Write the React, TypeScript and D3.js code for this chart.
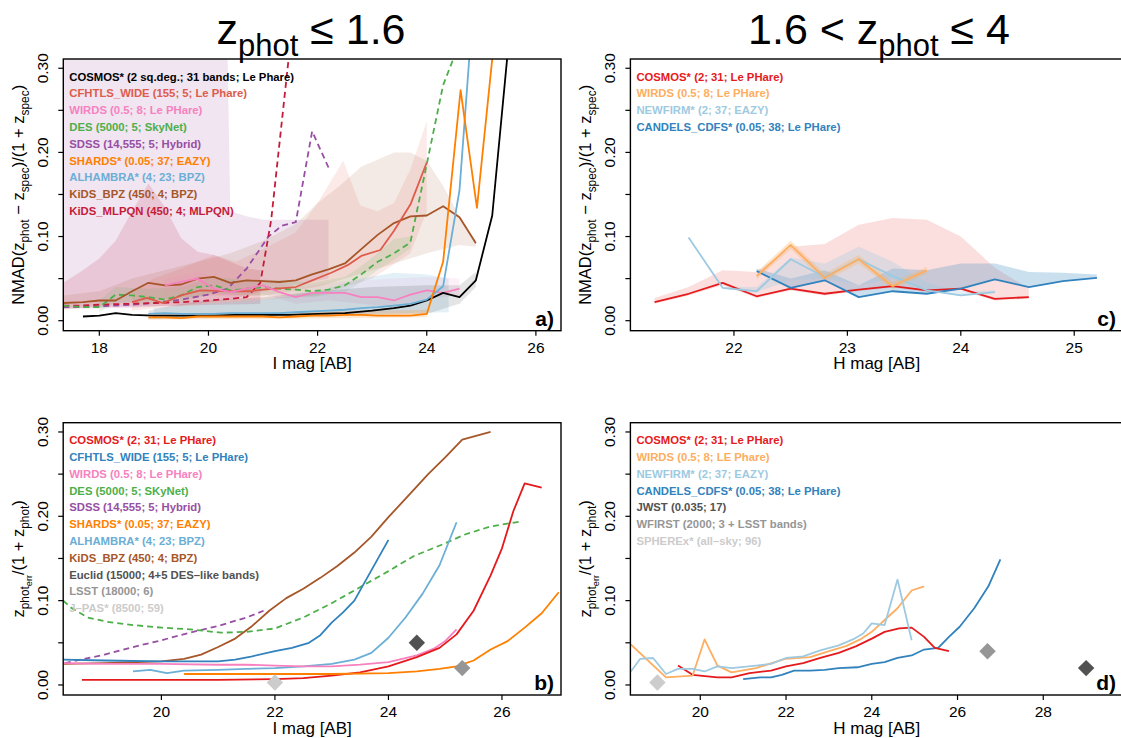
import React from 'react';
import * as d3 from 'd3';

type Pt = [number, number];

const FONT = '"Liberation Sans", Arial, Helvetica, sans-serif';

// ---------------- Panel a : NMAD vs I mag (z <= 1.6) ----------------
const aCOSMOS: Pt[] = [[17.7,.005],[18.0,.006],[18.3,.009],[18.6,.007],[19.0,.006],[19.5,.006],[20.0,.006],[20.5,.007],[21.0,.007],[21.5,.007],[22.0,.008],[22.5,.009],[23.0,.012],[23.4,.015],[23.7,.018],[24.0,.024],[24.3,.033],[24.6,.028],[24.9,.048],[25.2,.125],[25.5,.33]];
const aCFHTLS: Pt[] = [[18.6,.022],[18.87,.027],[19.17,.021],[19.5,.03],[19.85,.036],[20.4,.035],[20.75,.035],[21.0,.037],[21.6,.04],[21.9,.048],[22.25,.057],[22.55,.066],[22.8,.077],[23.15,.084],[23.4,.107],[23.7,.138],[24.0,.188]];
const aWIRDS: Pt[] = [[19.2,.042],[19.5,.046],[19.8,.050],[20.1,.038],[20.4,.034],[20.7,.038],[21.0,.042],[21.3,.034],[21.6,.028],[21.9,.033],[22.2,.033],[22.5,.033],[22.8,.028],[23.1,.028],[23.4,.024],[23.7,.031],[24.0,.036],[24.3,.033],[24.6,.038]];
const aDES: Pt[] = [[17.34,.018],[17.7,.016],[18.0,.016],[18.3,.031],[18.6,.030],[18.9,.028],[19.2,.025],[19.5,.030],[19.8,.040],[20.1,.042],[20.4,.036],[20.7,.038],[21.0,.040],[21.3,.038],[21.6,.037],[21.9,.035],[22.2,.037],[22.5,.042],[22.8,.055],[23.1,.070],[23.4,.080],[23.7,.093],[24.0,.186],[24.3,.28],[24.6,.33]];
const aSDSS: Pt[] = [[17.34,.016],[17.7,.016],[18.0,.017],[18.3,.018],[18.6,.019],[19.0,.021],[19.5,.025],[20.0,.031],[20.35,.038],[20.7,.062],[21.1,.1],[21.35,.113],[21.6,.117],[21.9,.225],[22.2,.182]];
const aSHARDS: Pt[] = [[18.9,.004],[19.2,.004],[19.5,.003],[19.8,.005],[20.1,.005],[20.4,.005],[20.7,.005],[21.0,.005],[21.3,.004],[21.6,.005],[21.9,.006],[22.2,.006],[22.5,.007],[22.8,.007],[23.1,.006],[23.4,.006],[23.7,.006],[24.0,.008],[24.3,.07],[24.62,.274],[24.92,.134],[25.23,.33]];
const aALHAMBRA: Pt[] = [[18.9,.008],[19.2,.009],[19.5,.008],[19.8,.008],[20.1,.008],[20.4,.009],[20.7,.009],[21.0,.009],[21.3,.009],[21.6,.010],[21.9,.011],[22.2,.012],[22.5,.013],[22.8,.015],[23.1,.016],[23.4,.018],[23.7,.020],[24.0,.025],[24.3,.041],[24.6,.155],[24.8,.33]];
const aKIDSBPZ: Pt[] = [[17.34,.021],[17.7,.022],[18.0,.024],[18.3,.024],[18.6,.035],[18.9,.045],[19.2,.042],[19.5,.043],[19.8,.050],[20.1,.052],[20.4,.045],[20.7,.048],[21.0,.047],[21.3,.046],[21.6,.048],[21.9,.055],[22.2,.061],[22.5,.068],[22.8,.085],[23.1,.102],[23.4,.116],[23.7,.124],[24.0,.125],[24.3,.136],[24.6,.123],[24.9,.092]];
const aKIDSMLPQN: Pt[] = [[17.34,.018],[17.7,.018],[18.0,.019],[18.5,.020],[19.0,.021],[19.5,.022],[20.0,.024],[20.4,.026],[20.7,.028],[20.95,.045],[21.15,.12],[21.5,.33]];

// bands (upper / lower envelopes)
const aBandSDSSHi: Pt[] = [[17.34,.5],[20.3,.5],[20.4,.13],[20.7,.124],[21.0,.12],[21.6,.12],[22.2,.12]];
const aBandSDSSLo: Pt[] = [[17.34,.014],[18.5,.015],[19.5,.018],[20.4,.025],[21.0,.035],[22.2,.05]];
const aBandMLPQNHi: Pt[] = [[17.34,.045],[17.7,.06],[18.0,.074],[18.3,.095],[18.6,.13],[18.9,.163],[19.2,.135],[19.5,.098],[19.8,.082],[20.1,.078],[20.4,.07],[20.7,.062],[20.95,.06]];
const aBandMLPQNLo: Pt[] = [[17.34,.015],[20.95,.02]];
const aBandCFHTLSHi: Pt[] = [[18.6,.035],[19.0,.05],[19.5,.062],[20.1,.078],[20.5,.07],[21.0,.085],[21.6,.105],[22.0,.14],[22.47,.19],[22.78,.137],[23.1,.13],[23.4,.14],[23.7,.18],[24.0,.237]];
const aBandCFHTLSLo: Pt[] = [[18.6,.012],[20.0,.02],[21.0,.025],[22.0,.03],[23.0,.05],[23.7,.08],[24.0,.13]];
const aBandBPZHi: Pt[] = [[17.34,.03],[18.0,.035],[18.6,.05],[19.2,.06],[19.8,.07],[20.4,.08],[21.0,.095],[21.6,.115],[22.0,.14],[22.4,.16],[22.8,.183],[23.4,.2],[23.7,.2],[24.0,.19],[24.3,.16],[24.6,.124],[24.9,.095]];
const aBandBPZLo: Pt[] = [[17.34,.013],[19.0,.025],[20.0,.03],[21.0,.03],[22.0,.04],[23.0,.06],[24.0,.08],[24.6,.09],[24.9,.088]];
const aBandDESHi: Pt[] = [[18.0,.024],[18.3,.04],[18.9,.038],[19.5,.04],[20.1,.052],[20.7,.048],[21.3,.048],[21.9,.045],[22.5,.052],[22.8,.065],[23.1,.08],[23.4,.097],[23.7,.1]];
const aBandDESLo: Pt[] = [[18.0,.01],[18.3,.022],[18.9,.02],[19.5,.022],[20.1,.033],[20.7,.03],[21.3,.03],[21.9,.028],[22.5,.034],[22.8,.046],[23.1,.06],[23.4,.072],[23.7,.086]];
const aBandCOSMOSHi: Pt[] = [[18.9,.012],[19.5,.02],[20.0,.024],[21.0,.028],[22.0,.035],[23.0,.04],[24.0,.042],[24.6,.042],[24.9,.058]];
const aBandCOSMOSLo: Pt[] = [[18.9,.002],[24.0,.008],[24.6,.02],[24.9,.04]];
const aBandALHAMBRAHi: Pt[] = [[19.0,.015],[20.0,.02],[21.0,.025],[22.0,.035],[22.8,.05],[23.4,.057],[24.0,.055],[24.4,.05]];
const aBandALHAMBRALo: Pt[] = [[19.0,.003],[24.4,.01]];
const aBandWIRDSHi: Pt[] = [[19.2,.05],[19.8,.058],[20.4,.045],[21.0,.05],[21.6,.04],[22.2,.045],[22.8,.048],[23.4,.05],[24.0,.052],[24.6,.05]];
const aBandWIRDSLo: Pt[] = [[19.2,.034],[19.8,.04],[20.4,.026],[21.0,.032],[21.6,.02],[22.2,.024],[22.8,.02],[23.4,.016],[24.0,.026],[24.6,.03]];
const aBandSHARDSHi: Pt[] = [[18.9,.008],[21.0,.009],[22.5,.011],[24.0,.013]];
const aBandSHARDSLo: Pt[] = [[18.9,.001],[24.0,.004]];

const aLegend: [string, string][] = [
  ['COSMOS* (2 sq.deg.; 31 bands; Le Phare)', '#000000'],
  ['CFHTLS_WIDE (155; 5; Le Phare)', '#dd5c4c'],
  ['WIRDS (0.5; 8; Le PHare)', '#f781bf'],
  ['DES (5000; 5; SkyNet)', '#4daf4a'],
  ['SDSS (14,555; 5; Hybrid)', '#984ea3'],
  ['SHARDS* (0.05; 37; EAZY)', '#ff7f00'],
  ['ALHAMBRA* (4; 23; BPZ)', '#6baed6'],
  ['KiDS_BPZ (450; 4; BPZ)', '#a65628'],
  ['KiDS_MLPQN (450; 4; MLPQN)', '#c51b3a'],
];

// ---------------- Panel b : zphot_err vs I mag ----------------
const bCOSMOS: Pt[] = [[18.6,.006],[19.0,.006],[20.0,.006],[21.0,.006],[22.0,.007],[22.5,.008],[23.0,.011],[23.5,.015],[24.0,.022],[24.5,.033],[24.9,.044],[25.2,.06],[25.5,.088],[25.8,.13],[26.0,.162],[26.2,.206],[26.4,.239],[26.7,.234]];
const bCFHTLS: Pt[] = [[18.27,.03],[19.0,.029],[20.0,.028],[21.0,.028],[21.3,.03],[21.6,.034],[22.0,.04],[22.3,.044],[22.6,.05],[22.8,.059],[23.0,.074],[23.2,.086],[23.4,.1],[23.6,.124],[23.8,.148],[24.0,.172]];
const bWIRDS: Pt[] = [[18.27,.026],[19.0,.025],[20.0,.025],[21.0,.024],[21.5,.024],[22.0,.023],[22.5,.022],[23.0,.022],[23.5,.024],[24.0,.027],[24.5,.035],[24.8,.043],[25.0,.052],[25.2,.066]];
const bDES: Pt[] = [[18.27,.1],[18.4,.092],[18.7,.08],[19.04,.075],[19.5,.071],[20.0,.068],[20.5,.066],[21.05,.062],[21.5,.063],[22.0,.067],[22.5,.08],[23.0,.097],[23.45,.114],[24.0,.135],[24.45,.153],[25.0,.168],[25.33,.178],[25.8,.188],[26.34,.194]];
const bSDSS: Pt[] = [[18.3,.026],[19.0,.036],[19.5,.045],[20.0,.053],[20.5,.062],[21.0,.07],[21.5,.08],[21.8,.088]];
const bSHARDS: Pt[] = [[20.4,.013],[21.0,.013],[22.0,.013],[23.0,.013],[24.0,.014],[24.5,.016],[24.9,.019],[25.2,.022],[25.5,.029],[25.8,.042],[26.1,.052],[26.4,.068],[26.7,.085],[27.0,.11]];
const bALHAMBRA: Pt[] = [[19.5,.016],[19.8,.018],[20.1,.014],[20.4,.017],[21.0,.018],[21.5,.019],[22.0,.02],[22.5,.022],[23.0,.025],[23.4,.03],[23.7,.038],[24.0,.056],[24.3,.08],[24.6,.108],[24.9,.142],[25.2,.193]];
const bKIDSBPZ: Pt[] = [[18.27,.025],[19.0,.026],[20.0,.028],[20.4,.031],[20.7,.036],[21.0,.045],[21.3,.055],[21.6,.07],[21.9,.088],[22.2,.103],[22.5,.114],[22.8,.127],[23.1,.141],[23.4,.157],[23.7,.176],[24.0,.199],[24.4,.228],[24.7,.25],[25.0,.27],[25.3,.291],[25.8,.3]];
const bForecast: [number, number, string][] = [[24.5,.05,'#525252'],[25.3,.02,'#969696'],[22.0,.003,'#cccccc']];

const bLegend: [string, string][] = [
  ['COSMOS* (2; 31; Le PHare)', '#e41a1c'],
  ['CFHTLS_WIDE (155; 5; Le PHare)', '#3182bd'],
  ['WIRDS (0.5; 8; Le PHare)', '#f781bf'],
  ['DES (5000; 5; SKyNet)', '#4daf4a'],
  ['SDSS (14,555; 5; Hybrid)', '#984ea3'],
  ['SHARDS* (0.05; 37; EAZY)', '#ff7f00'],
  ['ALHAMBRA* (4; 23; BPZ)', '#6baed6'],
  ['KiDS_BPZ (450; 4; BPZ)', '#a65628'],
  ['Euclid (15000; 4+5 DES\u2013like bands)', '#525252'],
  ['LSST (18000; 6)', '#969696'],
  ['J\u2013PAS* (8500; 59)', '#cccccc'],
];

// ---------------- Panel c : NMAD vs H mag (1.6 < z <= 4) ----------------
const cCOSMOS: Pt[] = [[21.3,.022],[21.6,.032],[21.9,.045],[22.2,.029],[22.5,.038],[22.8,.032],[23.1,.037],[23.4,.041],[23.7,.036],[24.0,.038],[24.3,.026],[24.6,.028]];
const cWIRDS: Pt[] = [[22.2,.053],[22.5,.09],[22.8,.051],[23.1,.073],[23.4,.041],[23.7,.06]];
const cNEWFIRM: Pt[] = [[21.6,.099],[21.9,.039],[22.2,.035],[22.5,.073],[22.8,.052],[23.1,.073],[23.4,.053],[23.7,.036],[24.0,.03],[24.3,.034]];
const cCANDELS: Pt[] = [[22.2,.059],[22.5,.039],[22.8,.048],[23.1,.028],[23.4,.035],[23.7,.032],[24.0,.038],[24.3,.049],[24.6,.04],[24.9,.047],[25.2,.051]];
const cBandCOSMOSHi: Pt[] = [[21.3,.027],[21.6,.04],[21.9,.06],[22.2,.058],[22.5,.088],[22.8,.091],[23.1,.114],[23.4,.122],[23.7,.12],[24.0,.1],[24.3,.063],[24.6,.038]];
const cBandCOSMOSLo: Pt[] = [[21.3,.02],[21.6,.03],[21.9,.042],[22.2,.027],[22.5,.036],[22.8,.03],[23.1,.035],[23.4,.039],[23.7,.034],[24.0,.036],[24.3,.024],[24.6,.026]];
const cBandWIRDSHi: Pt[] = [[22.2,.058],[22.5,.095],[22.8,.056],[23.1,.078],[23.4,.046],[23.7,.064]];
const cBandWIRDSLo: Pt[] = [[22.2,.049],[22.5,.085],[22.8,.047],[23.1,.068],[23.4,.037],[23.7,.056]];
const cBandNEWFIRMHi: Pt[] = [[21.6,.1],[21.9,.04],[22.2,.04],[22.5,.075],[22.8,.068],[23.1,.088],[23.4,.07],[23.7,.045],[24.0,.035],[24.3,.036]];
const cBandNEWFIRMLo: Pt[] = [[21.6,.098],[21.9,.038],[22.2,.034],[22.5,.048],[22.8,.05],[23.1,.042],[23.4,.05],[23.7,.035],[24.0,.03],[24.3,.033]];
const cBandCANDELSHi: Pt[] = [[22.2,.062],[22.5,.05],[22.8,.06],[23.1,.042],[23.4,.062],[23.7,.06],[24.0,.068],[24.3,.068],[24.6,.058],[24.9,.057],[25.2,.055]];
const cBandCANDELSLo: Pt[] = cCANDELS;

const cLegend: [string, string][] = [
  ['COSMOS* (2; 31; Le PHare)', '#e41a1c'],
  ['WIRDS (0.5; 8; Le PHare)', '#fdae61'],
  ['NEWFIRM* (2; 37; EAZY)', '#9ecae1'],
  ['CANDELS_CDFS* (0.05; 38; Le PHare)', '#3182bd'],
];

// ---------------- Panel d : zphot_err vs H mag ----------------
const dCOSMOS: Pt[] = [[19.48,.023],[19.82,.012],[20.4,.009],[20.73,.009],[21.15,.014],[21.65,.017],[22.0,.022],[22.4,.026],[22.8,.032],[23.23,.038],[23.64,.046],[24.0,.055],[24.3,.063],[24.64,.067],[24.93,.068],[25.22,.057],[25.47,.044],[25.8,.04]];
const dWIRDS: Pt[] = [[18.38,.048],[19.2,.009],[19.82,.011],[20.1,.054],[20.4,.023],[20.73,.015],[21.3,.02],[21.98,.031],[22.56,.033],[23.06,.041],[23.4,.046],[23.73,.054],[24.0,.063],[24.3,.077],[24.6,.091],[24.93,.112],[25.22,.117]];
const dNEWFIRM: Pt[] = [[18.38,.016],[18.6,.031],[18.9,.032],[19.2,.013],[19.48,.019],[19.82,.019],[20.1,.016],[20.4,.022],[20.73,.02],[21.3,.023],[21.65,.025],[22.0,.032],[22.4,.034],[22.8,.041],[23.23,.047],[23.56,.054],[23.8,.061],[24.0,.073],[24.3,.071],[24.6,.125],[24.93,.053]];
const dCANDELS: Pt[] = [[21.0,.007],[21.4,.009],[21.65,.009],[21.9,.012],[22.19,.017],[22.56,.017],[22.9,.018],[23.23,.02],[23.67,.021],[24.0,.025],[24.3,.027],[24.6,.032],[24.93,.035],[25.22,.042],[25.55,.044],[25.8,.057],[26.05,.069],[26.39,.091],[26.72,.117],[27.0,.149]];
const dForecast: [number, number, string][] = [[19.0,.003,'#cccccc'],[26.7,.04,'#969696'],[29.0,.02,'#525252']];

const dLegend: [string, string][] = [
  ['COSMOS* (2; 31; Le PHare)', '#e41a1c'],
  ['WIRDS (0.5; 8; LE Phare)', '#fdae61'],
  ['NEWFIRM* (2; 37; EAZY)', '#9ecae1'],
  ['CANDELS_CDFS* (0.05; 38; Le PHare)', '#3182bd'],
  ['JWST (0.035; 17)', '#525252'],
  ['WFIRST (2000; 3 + LSST bands)', '#969696'],
  ['SPHEREx* (all\u2013sky; 96)', '#cccccc'],
];

const Y_DOMAIN: [number, number] = [-0.0119, 0.311];
const Y_MAJOR = [0, 0.1, 0.2, 0.3];
const Y_MINOR = [0.05, 0.15, 0.25];

type Seg = [string, number];
function rich(segs: Seg[], fs: number) {
  const sizes = [fs, fs * 0.72, fs * 0.55];
  const shifts = [0, fs * 0.28, fs * 0.45];
  let cur = 0;
  return segs.map(([t, lvl], i) => {
    const dy = shifts[lvl] - cur;
    cur = shifts[lvl];
    return (
      <tspan key={i} dy={dy} fontSize={sizes[lvl]} style={{ whiteSpace: 'pre' }}>
        {t}
      </tspan>
    );
  });
}

interface SeriesDef { pts: Pt[]; color: string; dash?: boolean; }
interface BandDef { hi: Pt[]; lo: Pt[]; color: string; op: number; }
interface PanelDef {
  id: string; left: number; right: number; top: number; bottom: number;
  xDomain: [number, number]; xTicks: number[]; xTitle: string;
  yTitle: Seg[]; label: string;
  bands: BandDef[]; series: SeriesDef[]; legend: [string, string][];
  diamonds?: [number, number, string][];
}

function Panel({ p }: { p: PanelDef }) {
  const x = d3.scaleLinear().domain(p.xDomain).range([p.left, p.right]);
  const y = d3.scaleLinear().domain(Y_DOMAIN).range([p.bottom, p.top]);
  const line = d3.line<Pt>().x(d => x(d[0])).y(d => y(d[1]));
  const clip = `clip-${p.id}`;
  const diamond = d3.symbol().type(d3.symbolSquare).size(135)();
  const midY = (p.top + p.bottom) / 2;
  return (
    <g fontFamily={FONT}>
      <defs>
        <clipPath id={clip}>
          <rect x={p.left} y={p.top} width={p.right - p.left} height={p.bottom - p.top} />
        </clipPath>
      </defs>
      <g clipPath={`url(#${clip})`}>
        {p.bands.map((b, i) => (
          <path key={'b' + i} d={line([...b.hi, ...[...b.lo].reverse()]) + 'Z'} fill={b.color} fillOpacity={b.op} stroke="none" />
        ))}
        {p.series.map((s, i) => (
          <path key={'s' + i} d={line(s.pts) || ''} fill="none" stroke={s.color} strokeWidth={1.8}
            strokeDasharray={s.dash ? '6,4' : undefined} strokeLinejoin="round" />
        ))}
        {(p.diamonds || []).map((dm, i) => (
          <path key={'d' + i} d={diamond || ''} fill={dm[2]}
            transform={`translate(${x(dm[0])},${y(dm[1])}) rotate(45)`} />
        ))}
      </g>
      {p.legend.map(([t, c], i) => (
        <text key={'l' + i} x={p.left + 6} y={p.top + 17.5 + i * 16.8} fill={c} fontSize={11.3}
          fontWeight="bold" dominantBaseline="central">{t}</text>
      ))}
      <rect x={p.left} y={p.top} width={p.right - p.left} height={p.bottom - p.top} fill="none" stroke="#000" strokeWidth={1.4} />
      {p.xTicks.map(t => (
        <g key={'xt' + t}>
          <line x1={x(t)} x2={x(t)} y1={p.bottom} y2={p.bottom + 5} stroke="#000" strokeWidth={1.2} />
          <text x={x(t)} y={p.bottom + 22} textAnchor="middle" fontSize={15.5}>{t}</text>
        </g>
      ))}
      {Y_MAJOR.concat(Y_MINOR).map(t => (
        <line key={'yt' + t} x1={p.left - 5} x2={p.left} y1={y(t)} y2={y(t)} stroke="#000" strokeWidth={1.2} />
      ))}
      {Y_MAJOR.map(t => (
        <text key={'yl' + t} transform={`translate(${p.left - 15},${y(t)}) rotate(-90)`} textAnchor="middle" fontSize={15.5}>
          {d3.format('.2f')(t)}
        </text>
      ))}
      <text x={(p.left + p.right) / 2} y={p.bottom + 38.5} textAnchor="middle" fontSize={17}>{p.xTitle}</text>
      <text transform={`translate(${p.left - 39},${midY}) rotate(-90)`} textAnchor="middle" fontSize={16.5}>
        {rich(p.yTitle, 16.5)}
      </text>
      <text x={p.right - 7} y={p.bottom - 5} textAnchor="end" fontSize={21} fontWeight="bold">{p.label}</text>
    </g>
  );
}

const NMAD: Seg[] = [['NMAD(z', 0], ['phot', 1], [' \u2212 z', 0], ['spec', 1], [')/(1 + z', 0], ['spec', 1], [')', 0]];
const ERR: Seg[] = [['z', 0], ['phot', 1], ['err', 2], ['/(1 + z', 0], ['phot', 1], [')', 0]];

const panelA: PanelDef = {
  id: 'a', left: 63.3, right: 561, top: 59, bottom: 330.7, xDomain: [17.34, 26.46], xTicks: [18, 20, 22, 24, 26],
  xTitle: 'I mag [AB]', yTitle: NMAD, label: 'a)', legend: aLegend,
  bands: [
    { hi: aBandSDSSHi, lo: aBandSDSSLo, color: '#984ea3', op: 0.15 },
    { hi: aBandMLPQNHi, lo: aBandMLPQNLo, color: '#c51b3a', op: 0.15 },
    { hi: aBandBPZHi, lo: aBandBPZLo, color: '#a65628', op: 0.12 },
    { hi: aBandCFHTLSHi, lo: aBandCFHTLSLo, color: '#dd5c4c', op: 0.13 },
    { hi: aBandDESHi, lo: aBandDESLo, color: '#4daf4a', op: 0.13 },
    { hi: aBandWIRDSHi, lo: aBandWIRDSLo, color: '#f781bf', op: 0.12 },
    { hi: aBandALHAMBRAHi, lo: aBandALHAMBRALo, color: '#6baed6', op: 0.18 },
    { hi: aBandCOSMOSHi, lo: aBandCOSMOSLo, color: '#000000', op: 0.1 },
    { hi: aBandSHARDSHi, lo: aBandSHARDSLo, color: '#ff7f00', op: 0.18 },
  ],
  series: [
    { pts: aSDSS, color: '#984ea3', dash: true },
    { pts: aKIDSMLPQN, color: '#c51b3a', dash: true },
    { pts: aDES, color: '#4daf4a', dash: true },
    { pts: aKIDSBPZ, color: '#a65628' },
    { pts: aCFHTLS, color: '#dd5c4c' },
    { pts: aWIRDS, color: '#f781bf' },
    { pts: aCOSMOS, color: '#000000' },
    { pts: aALHAMBRA, color: '#6baed6' },
    { pts: aSHARDS, color: '#ff7f00' },
  ],
};

const panelB: PanelDef = {
  id: 'b', left: 63.2, right: 561, top: 422.7, bottom: 695, xDomain: [18.27, 27.04], xTicks: [20, 22, 24, 26],
  xTitle: 'I mag [AB]', yTitle: ERR, label: 'b)', legend: bLegend, bands: [],
  series: [
    { pts: bSDSS, color: '#984ea3', dash: true },
    { pts: bDES, color: '#4daf4a', dash: true },
    { pts: bKIDSBPZ, color: '#a65628' },
    { pts: bCFHTLS, color: '#3182bd' },
    { pts: bALHAMBRA, color: '#6baed6' },
    { pts: bWIRDS, color: '#f781bf' },
    { pts: bCOSMOS, color: '#e41a1c' },
    { pts: bSHARDS, color: '#ff7f00' },
  ],
  diamonds: bForecast,
};

const panelC: PanelDef = {
  id: 'c', left: 630.4, right: 1123, top: 59, bottom: 330.7, xDomain: [21.087, 25.43], xTicks: [22, 23, 24, 25],
  xTitle: 'H mag [AB]', yTitle: NMAD, label: 'c)', legend: cLegend,
  bands: [
    { hi: cBandCOSMOSHi, lo: cBandCOSMOSLo, color: '#e41a1c', op: 0.14 },
    { hi: cBandCANDELSHi, lo: cBandCANDELSLo, color: '#3182bd', op: 0.25 },
    { hi: cBandNEWFIRMHi, lo: cBandNEWFIRMLo, color: '#9ecae1', op: 0.3 },
    { hi: cBandWIRDSHi, lo: cBandWIRDSLo, color: '#fdae61', op: 0.3 },
  ],
  series: [
    { pts: cCOSMOS, color: '#e41a1c' },
    { pts: cCANDELS, color: '#3182bd' },
    { pts: cNEWFIRM, color: '#9ecae1' },
    { pts: cWIRDS, color: '#fdae61' },
  ],
};

const panelD: PanelDef = {
  id: 'd', left: 630.4, right: 1123, top: 422.7, bottom: 695, xDomain: [18.37, 29.86], xTicks: [20, 22, 24, 26, 28],
  xTitle: 'H mag [AB]', yTitle: ERR, label: 'd)', legend: dLegend, bands: [],
  series: [
    { pts: dCANDELS, color: '#3182bd' },
    { pts: dCOSMOS, color: '#e41a1c' },
    { pts: dWIRDS, color: '#fdae61' },
    { pts: dNEWFIRM, color: '#9ecae1' },
  ],
  diamonds: dForecast,
};

export default function App() {
  return (
    <svg width={1121} height={738} style={{ position: 'absolute', left: 0, top: 0, background: '#fff' }}>
      <rect x={0} y={0} width={1121} height={738} fill="#fff" />
      <text x={311} y={44} textAnchor="middle" fontSize={43} fontFamily={FONT}>
        {rich([['z', 0], ['phot', 1], [' \u2264 1.6', 0]], 43)}
      </text>
      <text x={879} y={44} textAnchor="middle" fontSize={43} fontFamily={FONT}>
        {rich([['1.6 < z', 0], ['phot', 1], [' \u2264 4', 0]], 43)}
      </text>
      <Panel p={panelA} />
      <Panel p={panelB} />
      <Panel p={panelC} />
      <Panel p={panelD} />
    </svg>
  );
}
